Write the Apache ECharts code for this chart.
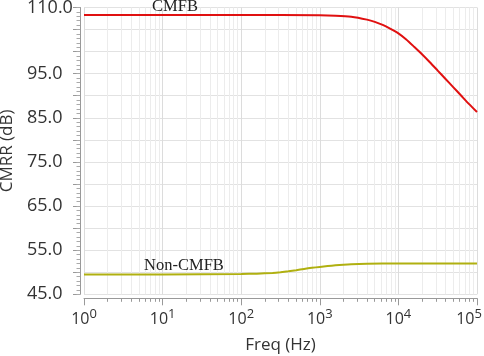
<!DOCTYPE html>
<html><head><meta charset="utf-8">
<script src="https://cdn.jsdelivr.net/npm/echarts@6/dist/echarts.min.js"></script>
<style>html,body{margin:0;padding:0;background:#fff}#c{width:484px;height:356px}</style>
</head><body><div id="c"></div>
<script>
const cmfbFreq = [1, 10, 100, 1000, 1585, 2512, 3981, 5012, 6310, 7943, 10000, 12589, 15849, 19953, 25119, 31623, 39811, 50119, 63096, 79433, 100000];
const cmfbVal  = [108.3, 108.3, 108.3, 108.25, 108.15, 107.9, 107.25, 106.75, 106.05, 105.15, 104.15, 102.75, 101.1, 99.4, 97.6, 95.7, 93.8, 91.9, 90.0, 88.1, 86.3];
const nonFreq = [1, 10, 100, 158, 251, 316, 398, 501, 631, 794, 1000, 1259, 1585, 1995, 2512, 3981, 10000, 100000];
const nonVal  = [49.5, 49.5, 49.6, 49.68, 49.85, 50.0, 50.2, 50.45, 50.75, 51.0, 51.2, 51.4, 51.58, 51.72, 51.82, 51.93, 52.0, 52.0];
const yLabels = [45, 55, 65, 75, 85, 95, 110];
const yGrid = [45, 50, 55, 60, 65, 70, 75, 80, 85, 90, 95, 100, 105, 110];
const xMajor = [1, 10, 100, 1000, 10000, 100000];
const xMinor = [];
for (const d of [1, 10, 100, 1000, 10000]) for (let k = 2; k <= 9; k++) xMinor.push(d * k);
const yMinor = [];
for (let v = 45; v <= 110; v++) yMinor.push(v);

const font = '"Open Sans", "Noto Sans", sans-serif';
const chart = echarts.init(document.getElementById('c'));
chart.setOption({
  animation: false,
  grid: {left: 84, right: 7, top: 7.5, bottom: 61.7, outerBoundsMode: 'none', containLabel: false},
  xAxis: [{
    type: 'log', logBase: 10, min: 1, max: 100000, offset: 4,
    axisLine: {show: true, lineStyle: {color: '#999', width: 1}},
    axisTick: {show: true, length: 7, lineStyle: {color: '#999'}, customValues: xMajor},
    splitLine: {show: true, lineStyle: {color: '#dcdcdc', width: 1}},
    axisLabel: {customValues: xMajor, color: '#333', margin: 9,
      formatter: v => {
        const e = Math.round(Math.log10(v));
        return '{b|10}{s|' + e + '}' + (e === 5 ? '{p|}' : '');
      },
      rich: {b: {fontSize: 16, fontFamily: font, color: '#333'},
             s: {fontSize: 13, fontFamily: font, color: '#333', padding: [0, 0, 11, 0]},
             p: {width: 16}}},
    name: 'Freq (Hz)', nameLocation: 'middle', nameGap: 38,
    nameTextStyle: {fontSize: 17, fontFamily: font, color: '#333'}
  }, {
    type: 'log', logBase: 10, min: 1, max: 100000, offset: 4, position: 'bottom',
    axisLine: {show: false},
    axisTick: {show: true, length: 3.5, lineStyle: {color: '#999'}, customValues: xMinor},
    splitLine: {show: true, lineStyle: {color: '#ececec', width: 1}},
    axisLabel: {show: false}
  }],
  yAxis: [{
    type: 'value', min: 45, max: 110, interval: 5, offset: 4,
    axisLine: {show: true, lineStyle: {color: '#999', width: 1}},
    axisTick: {show: true, length: 7, lineStyle: {color: '#999'}, customValues: yGrid},
    splitLine: {show: true, lineStyle: {color: '#e2e2e2', width: 1}},
    axisLabel: {customValues: yLabels, color: '#333', fontSize: 18, fontFamily: font, margin: 53, align: 'left',
      formatter: v => v.toFixed(1)},
    name: 'CMRR (dB)', nameLocation: 'middle', nameRotate: 90, nameGap: 62,
    nameTextStyle: {fontSize: 17, fontFamily: font, color: '#333'}
  }, {
    type: 'value', min: 45, max: 110, interval: 5, offset: 4, position: 'left',
    axisLine: {show: false},
    axisTick: {show: true, length: 3.5, lineStyle: {color: '#aaa'}, customValues: yMinor},
    splitLine: {show: false},
    axisLabel: {show: false}
  }],
  series: [{
    type: 'line', name: 'CMFB', xAxisIndex: 0, yAxisIndex: 0,
    data: cmfbFreq.map((f, i) => [f, cmfbVal[i]]),
    smooth: 0.2, showSymbol: false, lineStyle: {color: '#e01010', width: 2}, itemStyle: {color: '#e01010'},
    markPoint: {symbol: 'circle', symbolSize: 0, silent: true,
      data: [{coord: [14.4, 108.3], value: 'CMFB'}],
      label: {show: true, formatter: 'CMFB', position: 'inside', offset: [0, -8],
        fontFamily: '"Liberation Serif", serif', fontSize: 16.5, color: '#222'}}
  }, {
    type: 'line', name: 'Non-CMFB', xAxisIndex: 0, yAxisIndex: 0,
    data: nonFreq.map((f, i) => [f, nonVal[i]]),
    smooth: 0.2, showSymbol: false, lineStyle: {color: '#b0b010', width: 2}, itemStyle: {color: '#b0b010'},
    markPoint: {symbol: 'circle', symbolSize: 0, silent: true,
      data: [{coord: [18.7, 49.5], value: 'Non-CMFB'}],
      label: {show: true, formatter: 'Non-CMFB', position: 'inside', offset: [0, -9],
        fontFamily: '"Liberation Serif", serif', fontSize: 16.5, color: '#222'}}
  }]
});
</script></body></html>
